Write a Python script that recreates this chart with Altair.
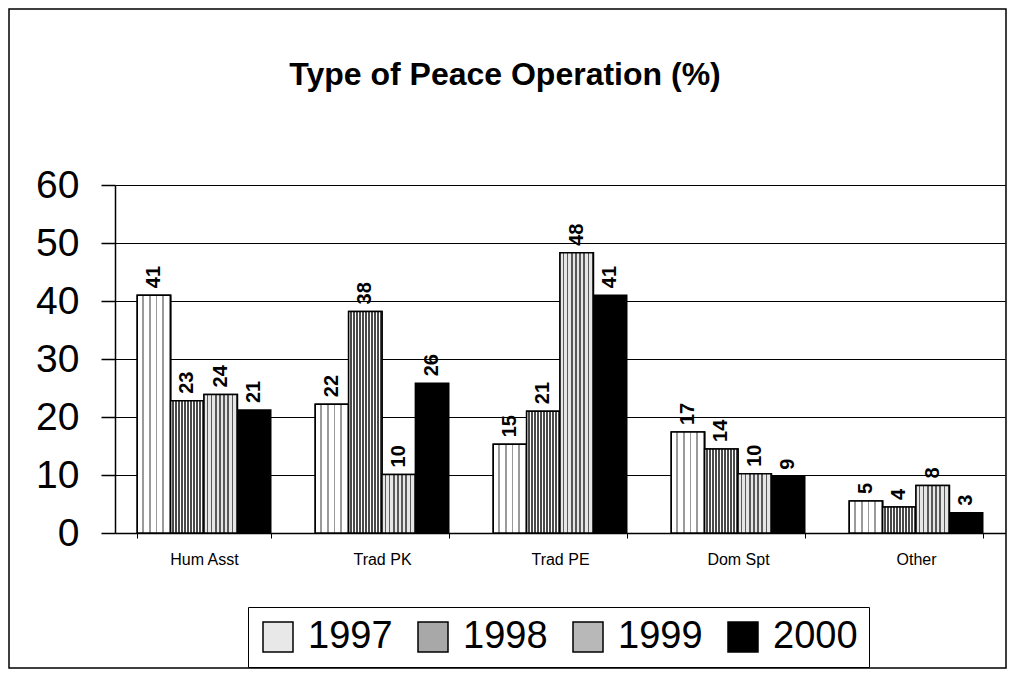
import altair as alt
import pandas as pd

categories = ["Hum Asst", "Trad PK", "Trad PE", "Dom Spt", "Other"]
years = ["1997", "1998", "1999", "2000"]
values = {
    "1997": [41.0, 22.2, 15.3, 17.4, 5.5],
    "1998": [22.8, 38.2, 21.0, 14.5, 4.5],
    "1999": [23.9, 10.1, 48.3, 10.2, 8.2],
    "2000": [21.2, 25.8, 41.0, 9.7, 3.5],
}
labels = {
    "1997": ["41", "22", "15", "17", "5"],
    "1998": ["23", "38", "21", "14", "4"],
    "1999": ["24", "10", "48", "10", "8"],
    "2000": ["21", "26", "41", "9", "3"],
}
title_text = "Type of Peace Operation (%)"
y_ticks = [0, 10, 20, 30, 40, 50, 60]

rows = []
for y in years:
    for c, v, l in zip(categories, values[y], labels[y]):
        rows.append({"category": c, "year": y, "value": v, "label": l})
df = pd.DataFrame(rows)

FONT = "Liberation Sans"
W, H = 890, 348

def stripes(c1, c2, n, frac):
    stops = []
    for i in range(n):
        a = i / n
        b = (i + frac) / n
        c = (i + 1) / n
        stops += [
            alt.GradientStop(offset=a, color=c1),
            alt.GradientStop(offset=b, color=c1),
            alt.GradientStop(offset=b, color=c2),
            alt.GradientStop(offset=c, color=c2),
        ]
    return alt.LinearGradient(gradient="linear", stops=stops, x1=0, x2=1, y1=0, y2=0)

patterns = {
    "1997": stripes("#ffffff", "#9a9a9a", 5, 0.78),
    "1998": stripes("#ffffff", "#4a4a4a", 11, 0.5),
    "1999": stripes("#e6e6e6", "#5a5a5a", 8, 0.6),
}

x_enc = alt.X(
    "category:N",
    sort=categories,
    scale=alt.Scale(domain=categories, paddingInner=0.25, paddingOuter=0.125),
    axis=alt.Axis(
        title=None, labelAngle=0, labelFontSize=16, labelFont=FONT, labelColor="black",
        labelPadding=13, tickBand="extent", tickSize=5, tickColor="black",
        domainColor="black", domainWidth=1.5, grid=False,
    ),
)
xo_enc = alt.XOffset("year:N", sort=years,
                     scale=alt.Scale(domain=years, paddingInner=0, paddingOuter=0))
y_enc = alt.Y(
    "value:Q",
    scale=alt.Scale(domain=[0, 60], nice=False),
    axis=alt.Axis(
        title=None, values=y_ticks, labelFontSize=39, labelFont=FONT, labelColor="black",
        labelPadding=22, tickSize=14, tickColor="black", tickWidth=1.5,
        domainColor="black", domainWidth=1.5, grid=True, gridColor="black",
        gridWidth=1.2, gridOpacity=1,
    ),
)

base = alt.Chart(df).mark_bar(stroke="black", strokeWidth=1.5).encode(
    x=x_enc,
    xOffset=xo_enc,
    y=y_enc,
    color=alt.Color(
        "year:N",
        sort=years,
        scale=alt.Scale(domain=years, range=["#e8e8e8", "#a8a8a8", "#b8b8b8", "#000000"]),
        legend=alt.Legend(
            title=None, orient="none", legendX=133, legendY=422, direction="horizontal",
            symbolType="square", symbolSize=900, symbolStrokeColor="black",
            symbolStrokeWidth=1.5, labelFontSize=38, labelFont=FONT, labelColor="black",
            labelOffset=11, columnPadding=21, padding=11, strokeColor="black",
            fillColor="white", labelLimit=200,
        ),
    ),
)

overlays = []
for y in ["1997", "1998", "1999"]:
    overlays.append(
        alt.Chart(df).transform_filter(alt.datum.year == y)
        .mark_bar(fill=patterns[y], stroke="black", strokeWidth=1.5)
        .encode(x=x_enc, xOffset=xo_enc, y=y_enc)
    )

text = alt.Chart(df).mark_text(
    angle=270, align="left", baseline="middle", dx=7, fontSize=20,
    fontWeight="bold", font=FONT, color="black",
).encode(x=x_enc, xOffset=xo_enc, y=y_enc, text="label:N")

title = alt.Chart(pd.DataFrame({"t": [title_text]})).mark_text(
    fontSize=32, fontWeight="bold", font=FONT, color="black",
    align="center", baseline="middle",
).encode(x=alt.value(390), y=alt.value(-110), text="t:N")

frame = alt.Chart(pd.DataFrame({"f": [0]})).mark_rect(
    fill=None, stroke="black", strokeWidth=1.5,
).encode(x=alt.value(-106), x2=alt.value(W + 1), y=alt.value(-176), y2=alt.value(H + 135))

chart = alt.layer(frame, base, *overlays, text, title).properties(
    width=W, height=H,
    padding={"left": 107, "top": 177, "right": 2, "bottom": 136},
    autosize=alt.AutoSizeParams(type="none"),
).configure_view(stroke=None).configure(background="white")

chart.save("out.html", embed_options={"renderer": "svg", "actions": False})
